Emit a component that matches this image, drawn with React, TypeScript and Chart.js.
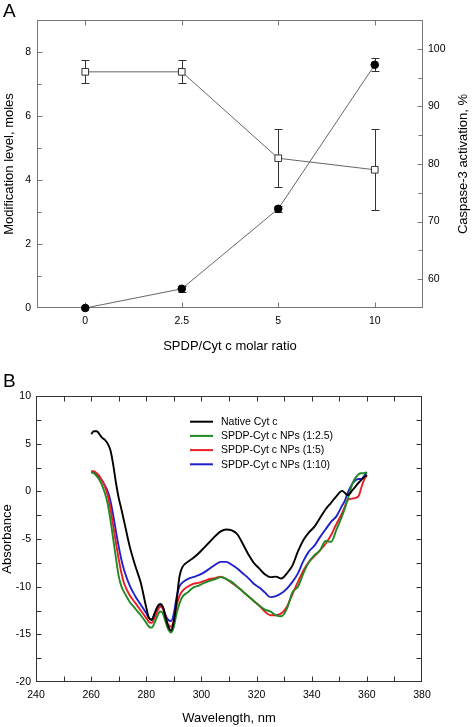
import React, { useEffect, useRef } from 'react';
import { Chart, registerables } from 'chart.js';

Chart.register(...registerables);

const FONT = '"Liberation Sans", Arial, Helvetica, sans-serif';

// ---------- Panel A data ----------
const ratioLabels = ['0', '2.5', '5', '10'];
const modificationLevel = [0, 0.6, 3.1, 7.6];
const modificationErr = [0, 0.1, 0.1, 0.2];
const caspaseActivation = [96, 96, 81, 79];
const caspaseErr = [2, 2, 5, 7];

// ---------- Panel B data ----------
const wavelengths = [260, 261, 262, 263, 264, 265, 266, 267, 268, 269, 270, 271, 272, 274, 276, 278, 280, 281, 282, 283, 284, 285, 286, 287, 288, 289, 290, 291, 292, 293, 295, 297, 299, 301, 303, 305, 307, 309, 311, 313, 315, 317, 319, 321, 323, 325, 327, 329, 331, 333, 335, 337, 339, 341, 343, 345, 347, 349, 351, 352, 353, 355, 357, 358, 359, 360];
const nativeCytC = [6.0, 6.3, 6.3, 6.0, 5.6, 5.4, 5.0, 4.3, 2.8, 0.9, -0.7, -1.9, -3.2, -5.8, -7.8, -9.6, -12.2, -13.3, -13.5, -12.8, -12.1, -11.8, -12.1, -13.2, -14.2, -14.6, -13.6, -11.5, -9.0, -8.0, -7.4, -7.0, -6.5, -5.9, -5.3, -4.7, -4.2, -4.0, -4.1, -4.5, -5.5, -6.6, -7.5, -8.1, -8.7, -9.0, -8.95, -9.15, -8.6, -7.8, -6.3, -5.1, -4.3, -3.7, -2.8, -1.9, -1.2, -0.5, 0.05, -0.15, -0.4, 0.2, 0.9, 1.2, 1.5, 1.7];
const nps1to2_5 = [2.0, 1.9, 1.6, 1.2, 0.6, -0.2, -1.3, -3.0, -5.0, -7.0, -8.9, -10.0, -10.6, -11.6, -12.3, -13.0, -13.8, -14.2, -14.3, -13.8, -13.1, -12.6, -12.8, -13.7, -14.5, -14.8, -14.2, -12.8, -11.8, -11.1, -10.6, -10.1, -9.9, -9.6, -9.4, -9.2, -9.0, -9.2, -9.5, -10.0, -10.5, -11.0, -11.5, -12.0, -12.4, -12.6, -13.0, -13.1, -12.3, -10.6, -10.0, -8.6, -7.4, -6.7, -6.2, -5.2, -5.3, -4.0, -2.6, -1.8, -0.9, 1.0, 1.8, 1.9, 1.9, 2.0];
const nps1to5 = [2.1, 2.1, 1.9, 1.6, 1.1, 0.5, -0.4, -1.8, -3.6, -5.4, -7.1, -8.6, -9.7, -10.9, -11.7, -12.5, -13.3, -13.7, -13.8, -13.3, -12.6, -12.1, -12.3, -13.2, -14.0, -14.2, -13.5, -12.0, -11.0, -10.5, -10.0, -9.7, -9.6, -9.4, -9.2, -9.1, -8.96, -9.2, -9.6, -10.0, -10.5, -11.0, -11.5, -12.0, -12.6, -13.0, -13.0, -12.8, -12.1, -10.8, -9.5, -8.3, -7.4, -6.8, -6.2, -5.5, -4.6, -3.4, -2.3, -1.6, -0.9, -0.75, -0.5, 0.4, 1.2, 1.7];
const nps1to10 = [2.0, 2.0, 1.8, 1.5, 1.1, 0.6, 0.0, -1.0, -2.5, -4.2, -5.8, -7.2, -8.3, -9.9, -11.0, -11.9, -12.8, -13.3, -13.4, -12.9, -12.3, -12.0, -12.2, -13.0, -13.5, -13.6, -12.8, -11.1, -10.0, -9.6, -9.2, -9.0, -8.8, -8.5, -8.1, -7.7, -7.4, -7.4, -7.7, -8.1, -8.6, -9.1, -9.7, -10.1, -10.6, -11.1, -11.0, -10.7, -10.2, -9.5, -8.6, -7.3, -6.3, -5.7, -4.8, -4.0, -3.2, -2.6, -1.5, -1.0, -0.2, 0.9, 1.3, 1.3, 1.6, 2.0];
const seriesLabels = ['Native Cyt c', 'SPDP-Cyt c NPs (1:2.5)', 'SPDP-Cyt c NPs (1:5)', 'SPDP-Cyt c NPs (1:10)'];
const seriesColors = ['#000000', '#1f8a24', '#ec1c24', '#1f22c8'];

// ---------- plugin: frame, inside ticks, error bars, extra texts, legend ----------
const decoPlugin: any = {
  id: 'deco',
  beforeDatasetsDraw(chart: any, _args: any, opts: any) {
    const { ctx, chartArea: a } = chart;
    ctx.save();
    ctx.strokeStyle = opts.frameColor || '#333';
    ctx.lineWidth = 1;
    const L = Math.round(a.left) + 0.5;
    const R = Math.round(a.right) - 0.5;
    const T = Math.round(a.top) + 0.5;
    const B = Math.round(a.bottom) - 0.5;
    ctx.strokeRect(L, T, R - L, B - T);
    const majorLen = opts.majorLen || 5;
    const minorLen = opts.minorLen || 5;
    (opts.axes || []).forEach((spec: any) => {
      const sc = chart.scales[spec.id];
      sc.ticks.forEach((t: any, i: number) => {
        const p = sc.getPixelForTick(i);
        const major = t.label !== '' && t.label !== undefined && t.label !== null;
        const len = major ? majorLen : minorLen;
        ctx.beginPath();
        if (sc.isHorizontal()) {
          if (Math.abs(p - a.left) < 1.5 || Math.abs(p - a.right) < 1.5) return;
          const x = Math.round(p) + 0.5;
          spec.sides.forEach((side: string) => {
            const y0 = side === 'top' ? T : B;
            const dir = side === 'top' ? 1 : -1;
            ctx.moveTo(x, y0);
            ctx.lineTo(x, y0 + dir * len);
          });
        } else {
          if (Math.abs(p - a.top) < 1.5 || Math.abs(p - a.bottom) < 1.5) return;
          const y = Math.round(p) + 0.5;
          spec.sides.forEach((side: string) => {
            const x0 = side === 'left' ? L : R;
            const dir = side === 'left' ? 1 : -1;
            ctx.moveTo(x0, y);
            ctx.lineTo(x0 + dir * len, y);
          });
        }
        ctx.stroke();
      });
    });
    // error bars
    chart.data.datasets.forEach((ds: any, di: number) => {
      if (!ds.errorBars) return;
      const meta = chart.getDatasetMeta(di);
      const ys = chart.scales[meta.yAxisID];
      ctx.strokeStyle = '#333';
      ctx.lineWidth = 1;
      meta.data.forEach((pt: any, j: number) => {
        const e = ds.errorBars[j];
        if (!e) return;
        const v = ds.data[j];
        const x = Math.round(pt.x) + 0.5;
        const y1 = Math.round(ys.getPixelForValue(v + e)) + 0.5;
        const y2 = Math.round(ys.getPixelForValue(v - e)) + 0.5;
        ctx.beginPath();
        ctx.moveTo(x, y1);
        ctx.lineTo(x, y2);
        ctx.moveTo(x - 4, y1);
        ctx.lineTo(x + 4, y1);
        ctx.moveTo(x - 4, y2);
        ctx.lineTo(x + 4, y2);
        ctx.stroke();
      });
    });
    ctx.restore();
  },
  afterDraw(chart: any, _args: any, opts: any) {
    const { ctx, chartArea: a } = chart;
    ctx.save();
    ctx.fillStyle = '#000';
    if (opts.letter) {
      ctx.font = `19px ${FONT}`;
      ctx.textAlign = 'left';
      ctx.textBaseline = 'alphabetic';
      ctx.fillText(opts.letter.text, opts.letter.x, opts.letter.y);
    }
    if (opts.rightTitle) {
      ctx.font = `13px ${FONT}`;
      ctx.textAlign = 'center';
      ctx.textBaseline = 'middle';
      ctx.translate(opts.rightTitle.x, (a.top + a.bottom) / 2);
      ctx.rotate(-Math.PI / 2);
      ctx.fillText(opts.rightTitle.text, 0, 0);
      ctx.setTransform(1, 0, 0, 1, 0, 0);
    }
    if (opts.legend) {
      const lg = opts.legend;
      ctx.font = `10.5px ${FONT}`;
      ctx.textAlign = 'left';
      ctx.textBaseline = 'middle';
      chart.data.datasets.forEach((ds: any, i: number) => {
        const y = lg.y0 + i * lg.dy;
        ctx.strokeStyle = ds.borderColor;
        ctx.lineWidth = 2;
        ctx.beginPath();
        ctx.moveTo(lg.x0, y);
        ctx.lineTo(lg.x1, y);
        ctx.stroke();
        ctx.fillStyle = '#000';
        ctx.fillText(ds.label, lg.textX, y + 0.5);
      });
    }
    ctx.restore();
  },
};

const tickFont = { family: FONT, size: 10.5 };
const titleFont = { family: FONT, size: 13, weight: 'normal' as const };

function buildA(): any {
  return {
    type: 'line',
    data: {
      labels: ratioLabels,
      datasets: [
        {
          label: 'Modification level, moles',
          data: modificationLevel,
          errorBars: modificationErr,
          yAxisID: 'y',
          borderColor: '#666',
          borderWidth: 1,
          pointStyle: 'circle',
          pointRadius: 3.8,
          pointBackgroundColor: '#000',
          pointBorderColor: '#000',
          pointBorderWidth: 1,
          clip: false,
        },
        {
          label: 'Caspase-3 activation, %',
          data: caspaseActivation,
          errorBars: caspaseErr,
          yAxisID: 'y1',
          borderColor: '#666',
          borderWidth: 1,
          pointStyle: 'rect',
          pointRadius: 4.7,
          pointBackgroundColor: '#fff',
          pointBorderColor: '#333',
          pointBorderWidth: 1,
          clip: false,
        },
      ],
    },
    plugins: [decoPlugin],
    options: {
      animation: false,
      responsive: false,
      devicePixelRatio: 1,
      layout: { padding: { top: 20, left: 0, right: 0, bottom: 0 } },
      plugins: {
        legend: { display: false },
        tooltip: { enabled: false },
        deco: {
          frameColor: '#777',
          majorLen: 5,
          minorLen: 4,
          axes: [
            { id: 'x', sides: ['bottom', 'top'] },
            { id: 'y', sides: ['left'] },
            { id: 'y1', sides: ['right'] },
          ],
          letter: { text: 'A', x: 3, y: 17 },
          rightTitle: { text: 'Caspase-3 activation, %', x: 463 },
        },
      },
      scales: {
        x: {
          type: 'category',
          offset: true,
          grid: { display: false, drawTicks: false },
          border: { display: false },
          ticks: { color: '#000', font: tickFont, padding: 7, maxRotation: 0, autoSkip: false },
          title: { display: true, text: 'SPDP/Cyt c molar ratio', color: '#000', font: titleFont, padding: { top: 0, bottom: 6 } },
          afterFit: (s: any) => { s.height = 52; },
        },
        y: {
          position: 'left',
          min: 0,
          max: 9,
          grid: { display: false, drawTicks: false },
          border: { display: false },
          ticks: { stepSize: 1, autoSkip: false, padding: 6, color: '#000', font: tickFont, callback: (v: number) => (v % 2 === 0 ? String(v) : '') },
          title: { display: true, text: 'Modification level, moles', color: '#000', font: titleFont, padding: { top: 2, bottom: 0 } },
          afterFit: (s: any) => { s.width = 37; },
        },
        y1: {
          position: 'right',
          min: 55,
          max: 105,
          grid: { display: false, drawTicks: false },
          border: { display: false },
          ticks: { stepSize: 5, autoSkip: false, padding: 5, color: '#000', font: tickFont, callback: (v: number) => (v % 10 === 0 ? String(v) : '') },
          afterFit: (s: any) => { s.width = 49; },
        },
      },
    },
  };
}

function buildB(): any {
  const series = [nativeCytC, nps1to2_5, nps1to5, nps1to10];
  return {
    type: 'line',
    data: {
      datasets: series.map((vals, i) => ({
        label: seriesLabels[i],
        data: wavelengths.map((w, j) => ({ x: w, y: vals[j] })),
        borderColor: seriesColors[i],
        borderWidth: 1.9,
        pointRadius: 0,
        cubicInterpolationMode: 'monotone',
        fill: false,
      })),
    },
    plugins: [decoPlugin],
    options: {
      animation: false,
      responsive: false,
      devicePixelRatio: 1,
      layout: { padding: { top: 36, left: 0, right: 50, bottom: 0 } },
      plugins: {
        legend: { display: false },
        tooltip: { enabled: false },
        deco: {
          frameColor: '#333',
          majorLen: 5,
          minorLen: 5,
          axes: [
            { id: 'x', sides: ['bottom', 'top'] },
            { id: 'y', sides: ['left', 'right'] },
          ],
          letter: { text: 'B', x: 3, y: 27 },
          legend: { x0: 190, x1: 213, textX: 221, y0: 61.7, dy: 14.2 },
        },
      },
      scales: {
        x: {
          type: 'linear',
          min: 240,
          max: 380,
          grid: { display: false, drawTicks: false },
          border: { display: false },
          ticks: { stepSize: 10, autoSkip: false, maxRotation: 0, padding: 7, color: '#000', font: tickFont, callback: (v: number) => (v % 20 === 0 ? String(v) : '') },
          title: { display: true, text: 'Wavelength, nm', color: '#000', font: titleFont, padding: { top: 0, bottom: 1 } },
          afterFit: (s: any) => { s.height = 45; },
        },
        y: {
          type: 'linear',
          min: -20,
          max: 10,
          grid: { display: false, drawTicks: false },
          border: { display: false },
          ticks: { stepSize: 2.5, autoSkip: false, padding: 5, color: '#000', font: tickFont, callback: (v: number) => (v % 5 === 0 ? String(v) : '') },
          title: { display: true, text: 'Absorbance', color: '#000', font: titleFont, padding: { top: 0, bottom: 0 } },
          afterFit: (s: any) => { s.width = 36; },
        },
      },
    },
  };
}

function ChartCanvas({ build, width, height, top }: { build: () => any; width: number; height: number; top: number }) {
  const ref = useRef<HTMLCanvasElement>(null);
  useEffect(() => {
    const chart = new Chart(ref.current as HTMLCanvasElement, build());
    return () => chart.destroy();
  }, [build]);
  return (
    <canvas
      ref={ref}
      width={width}
      height={height}
      style={{ position: 'absolute', left: 0, top, width, height, display: 'block' }}
    />
  );
}

export default function App() {
  return (
    <div style={{ position: 'absolute', left: 0, top: 0, width: 472, height: 727, background: '#fff', overflow: 'hidden' }}>
      <ChartCanvas build={buildA} width={472} height={360} top={0} />
      <ChartCanvas build={buildB} width={472} height={367} top={360} />
    </div>
  );
}
